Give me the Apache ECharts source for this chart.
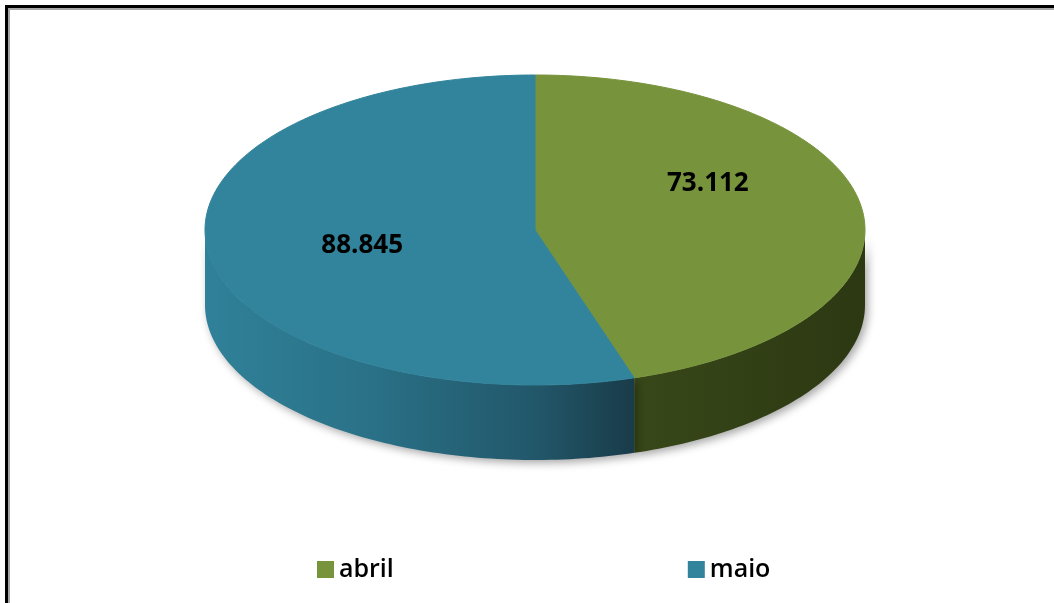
<!DOCTYPE html>
<html>
<head>
<meta charset="utf-8">
<script src="https://cdn.jsdelivr.net/npm/echarts@6/dist/echarts.min.js"></script>
<style>
  html, body { margin: 0; padding: 0; background: #fff; }
  #chart { width: 1054px; height: 603px; }
</style>
</head>
<body>
<div id="chart"></div>
<script>
// dados
const categories = ['abril', 'maio'];
const values = [73.112, 88.845];

// estilo
const topColors = ['#77933c', '#31849b'];
const sideStops = [
  [[0, '#3a4a1a'], [0.6, '#3a4a1a'], [1, '#2c3812']],
  [[0, '#2f8199'], [0.25, '#2a7187'], [0.5, '#22576a'], [0.67, '#183845'], [1, '#183845']]
];
const labelDy = [-34, 3];

const cx = 535, cy = 230, rx = 330, ry = 155, depth = 75;
const total = values.reduce((a, b) => a + b, 0);

function pt(t, dy) {
  return [cx + rx * Math.sin(t), cy - ry * Math.cos(t) + (dy || 0)];
}
function arc(a0, a1, dy) {
  const pts = [];
  const n = Math.max(2, Math.ceil((a1 - a0) / 0.02));
  for (let k = 0; k <= n; k++) pts.push(pt(a0 + (a1 - a0) * k / n, dy));
  return pts;
}

function makeRender(i) {
  return function (params, api) {
    let before = 0;
    for (let k = 0; k < i; k++) before += values[k];
    const a0 = before / total * Math.PI * 2;
    const a1 = a0 + api.value(0) / total * Math.PI * 2;
    const children = [];

    // lateral (parte da frente)
    const s0 = Math.max(a0, Math.PI / 2), s1 = Math.min(a1, Math.PI * 1.5);
    if (s1 > s0) {
      const topArc = arc(s0, s1, 0);
      const botArc = arc(s0, s1, depth).reverse();
      children.push({
        type: 'polygon',
        z2: 1,
        shape: { points: topArc.concat(botArc) },
        style: {
          fill: {
            type: 'linear', x: cx - rx, y: 0, x2: cx + rx, y2: 0, global: true,
            colorStops: sideStops[i].map(s => ({ offset: s[0], color: s[1] }))
          },
          shadowBlur: 8, shadowColor: 'rgba(0,0,0,0.35)', shadowOffsetX: 3, shadowOffsetY: 3
        }
      });
    }

    // topo
    children.push({
      type: 'polygon',
      z2: 5,
      shape: { points: [[cx, cy]].concat(arc(a0, a1, 0)) },
      style: { fill: topColors[i], stroke: topColors[i], lineWidth: 1 }
    });

    // rótulo
    const mid = (a0 + a1) / 2;
    const lp = pt(mid);
    children.push({
      type: 'text',
      z2: 10,
      x: cx + (lp[0] - cx) * 0.53,
      y: cy + (lp[1] - cy) * 0.53 + labelDy[i],
      style: {
        text: api.value(0).toFixed(3),
        fill: '#000',
        font: 'bold 26px "Open Sans"',
        align: 'center',
        verticalAlign: 'middle'
      }
    });
    return { type: 'group', children: children };
  };
}

const chart = echarts.init(document.getElementById('chart'));
chart.setOption({
  animation: false,
  backgroundColor: '#fff',
  legend: {
    data: categories,
    left: 312,
    top: 552,
    itemGap: 294,
    itemWidth: 17,
    itemHeight: 17,
    icon: 'rect',
    selectedMode: false,
    textStyle: { fontSize: 25, fontWeight: 600, fontFamily: 'Open Sans', color: '#000' }
  },
  graphic: [
    { type: 'rect', shape: { x: 5, y: 5, width: 1049, height: 3 }, style: { fill: '#000' } },
    { type: 'rect', shape: { x: 8, y: 8, width: 1046, height: 2 }, style: { fill: '#a6a6a6' } },
    { type: 'rect', shape: { x: 5, y: 5, width: 3, height: 598 }, style: { fill: '#000' } },
    { type: 'rect', shape: { x: 8, y: 8, width: 2, height: 595 }, style: { fill: '#a6a6a6' } }
  ],
  series: categories.map((name, i) => ({
    type: 'custom',
    name: name,
    coordinateSystem: 'none',
    itemStyle: { color: topColors[i] },
    data: [[values[i]]],
    renderItem: makeRender(i)
  }))
});
window.addEventListener('resize', function () { chart.resize(); });
</script>
</body>
</html>
